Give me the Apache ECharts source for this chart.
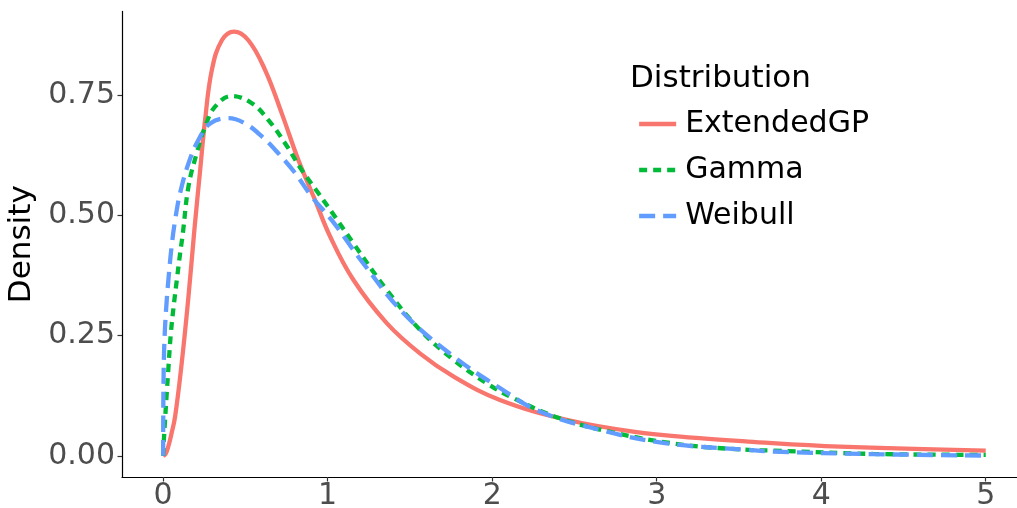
<!DOCTYPE html>
<html>
<head>
<meta charset="utf-8">
<script src="https://cdn.jsdelivr.net/npm/echarts@6/dist/echarts.min.js"></script>
<style>
  html, body { margin: 0; padding: 0; background: #ffffff; }
  #chart { width: 1017px; height: 508px; }
</style>
</head>
<body>
<div id="chart"></div>
<script>
// Tick values
const xTicks = [0, 1, 2, 3, 4, 5];
const yTicks = [0, 0.25, 0.5, 0.75];

// ExtendedGP density
const gpX = [0, 0.015, 0.032, 0.05, 0.073, 0.113, 0.154, 0.19, 0.225, 0.255, 0.296, 0.357, 0.431, 0.518, 0.62, 0.721, 0.822, 0.923, 1.015, 1.156, 1.359, 1.561, 1.764, 2.047, 2.453, 2.857, 3.26, 3.556, 4.113, 5.0];
const gpY = [0, 0.004, 0.02, 0.045, 0.082, 0.193, 0.331, 0.47, 0.594, 0.698, 0.802, 0.864, 0.882, 0.864, 0.802, 0.712, 0.615, 0.532, 0.456, 0.366, 0.276, 0.213, 0.165, 0.116, 0.075, 0.0505, 0.0367, 0.0297, 0.0193, 0.011];

// Gamma density
const gammaX = [0, 0.004, 0.01, 0.02, 0.032, 0.047, 0.067, 0.083, 0.103, 0.12, 0.154, 0.204, 0.255, 0.316, 0.417, 0.539, 0.64, 0.741, 0.843, 0.944, 1.045, 1.156, 1.359, 1.561, 1.764, 1.966, 2.128, 2.412, 2.756, 3.161, 3.556, 3.708, 4.315, 5.0];
const gammaY = [0, 0.03, 0.065, 0.12, 0.182, 0.255, 0.32, 0.365, 0.42, 0.463, 0.56, 0.629, 0.684, 0.726, 0.748, 0.733, 0.698, 0.65, 0.594, 0.546, 0.497, 0.442, 0.345, 0.262, 0.2, 0.151, 0.12, 0.078, 0.047, 0.023, 0.0125, 0.011, 0.004, 0.002];

// Weibull density
const weibullX = [0, 0.001, 0.003, 0.006, 0.012, 0.022, 0.032, 0.053, 0.073, 0.103, 0.154, 0.215, 0.286, 0.397, 0.498, 0.6, 0.7, 0.802, 0.903, 1.025, 1.217, 1.46, 1.764, 2.047, 2.29, 2.655, 3.06, 3.556, 3.708, 4.315, 5.0];
const weibullY = [0, 0.1, 0.17, 0.22, 0.27, 0.324, 0.366, 0.44, 0.49, 0.546, 0.608, 0.657, 0.691, 0.702, 0.691, 0.664, 0.629, 0.588, 0.539, 0.49, 0.4, 0.297, 0.207, 0.141, 0.092, 0.054, 0.026, 0.0125, 0.009, 0.0035, 0.0006];

const seriesNames = ['ExtendedGP', 'Gamma', 'Weibull'];
const seriesColors = ['#F8766D', '#00BA38', '#619CFF'];

function pairs(xs, ys) { return xs.map((x, i) => [x, ys[i]]); }

const FONT = 'DejaVu Sans';
const chart = echarts.init(document.getElementById('chart'), null, { renderer: 'canvas' });

const mk = (name, color, data, type, z) => ({
  name: name,
  type: 'line',
  data: data,
  symbol: 'none',
  showSymbol: false,
  smooth: 0.4,
  color: color,
  itemStyle: { color: color },
  lineStyle: { color: color, width: 4.3, type: type, cap: 'butt' },
  z: z,
  animation: false
});

chart.setOption({
  backgroundColor: '#ffffff',
  animation: false,
  title: {
    text: 'Distribution',
    left: 630,
    top: 63,
    padding: 0,
    textStyle: { fontFamily: FONT, fontSize: 31, fontWeight: 'normal', color: '#000000', lineHeight: 31 }
  },
  legend: {
    orient: 'vertical',
    left: 637,
    top: 109,
    padding: 0,
    itemWidth: 37,
    itemHeight: 30,
    itemGap: 16,
    itemStyle: { opacity: 0 },
    lineStyle: { width: 4.3 },
    data: seriesNames,
    textStyle: { fontFamily: FONT, fontSize: 30, color: '#000000', lineHeight: 30, padding: [0, 0, 0, 4] }
  },
  grid: { left: 122, right: 0, top: 11.4, bottom: 31, containLabel: false, outerBoundsMode: 'none' },
  xAxis: {
    type: 'value',
    min: -0.25,
    max: 5.19,
    splitLine: { show: false },
    axisLine: { show: true, onZero: false, lineStyle: { color: '#000000', width: 1.2 } },
    axisTick: { show: true, length: 4.5, lineStyle: { color: '#333333', width: 1.2 }, customValues: xTicks },
    axisLabel: { customValues: xTicks, margin: 4, fontFamily: FONT, fontSize: 30, color: '#4D4D4D', formatter: v => String(v) }
  },
  yAxis: {
    type: 'value',
    min: -0.044,
    max: 0.924,
    name: 'Density',
    nameLocation: 'middle',
    nameGap: 81,
    nameTextStyle: { fontFamily: FONT, fontSize: 31, color: '#000000' },
    splitLine: { show: false },
    axisLine: { show: true, onZero: false, lineStyle: { color: '#000000', width: 1.2 } },
    axisTick: { show: true, length: 4.5, lineStyle: { color: '#333333', width: 1.2 }, customValues: yTicks },
    axisLabel: { customValues: yTicks, margin: 7, fontFamily: FONT, fontSize: 30, color: '#4D4D4D', formatter: v => v.toFixed(2) }
  },
  series: [
    mk(seriesNames[0], seriesColors[0], pairs(gpX, gpY), 'solid', 2),
    mk(seriesNames[1], seriesColors[1], pairs(gammaX, gammaY), [8, 6], 3),
    mk(seriesNames[2], seriesColors[2], pairs(weibullX, weibullY), [16, 8], 4)
  ]
});
</script>
</body>
</html>
